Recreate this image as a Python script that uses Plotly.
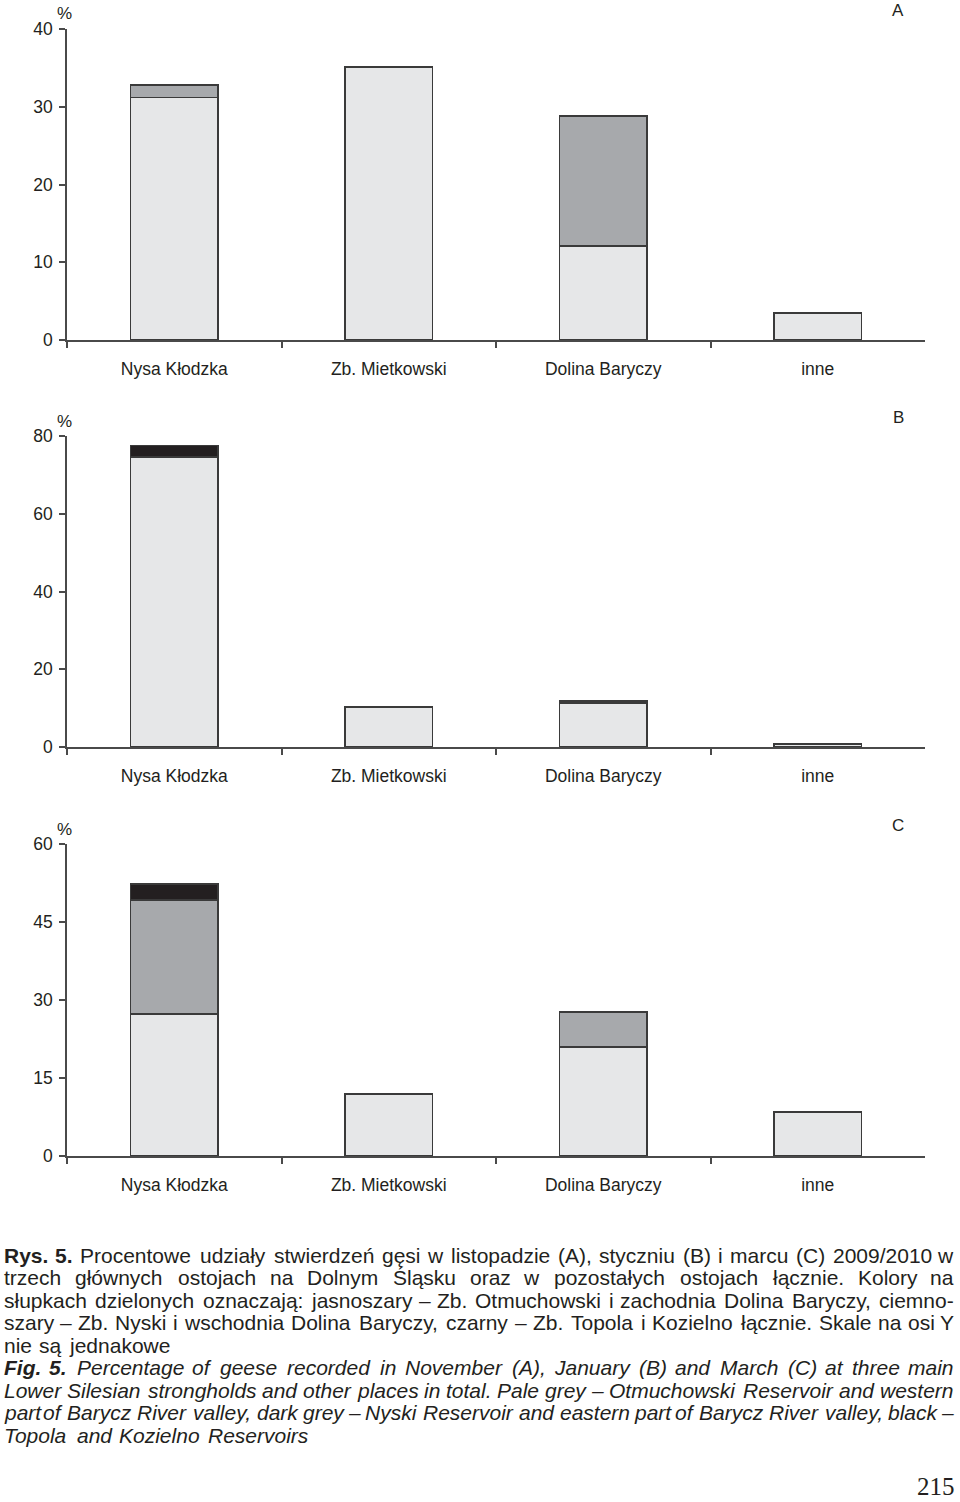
import plotly.graph_objects as go

# ---------------- data ----------------
categories = ["Nysa Kłodzka", "Zb. Mietkowski", "Dolina Baryczy", "inne"]

A_pale = [31.2, 35.1, 12.1, 3.5]
A_dark = [1.6, None, 16.7, None]
A_black = [None, None, None, None]

B_pale = [74.6, 10.3, 11.3, 0.8]
B_dark = [None, None, 0.5, None]
B_black = [2.9, None, None, None]

C_pale = [27.3, 11.9, 21.0, 8.5]
C_dark = [21.9, None, 6.7, None]
C_black = [3.1, None, None, None]

A_ticks = [0, 10, 20, 30, 40]
B_ticks = [0, 20, 40, 60, 80]
C_ticks = [0, 15, 30, 45, 60]

panel_letters = ["A", "B", "C"]

caption_lines = [
    ("Rys. 5.", "Procentowe udziały stwierdzeń gęsi w listopadzie (A), styczniu (B) i marcu (C) 2009/2010 w", True, False),
    ("", "trzech głównych ostojach na Dolnym Śląsku oraz w pozostałych ostojach łącznie. Kolory na", True, False),
    ("", "słupkach dzielonych oznaczają: jasnoszary – Zb. Otmuchowski i zachodnia Dolina Baryczy, ciemno-", True, False),
    ("", "szary – Zb. Nyski i wschodnia Dolina Baryczy, czarny – Zb. Topola i Kozielno łącznie. Skale na osi Y", True, False),
    ("", "nie są jednakowe", False, False),
    ("Fig. 5.", "Percentage of geese recorded in November (A), January (B) and March (C) at three main", True, True),
    ("", "Lower Silesian strongholds and other places in total. Pale grey – Otmuchowski Reservoir and western", True, True),
    ("", "part of Barycz River valley, dark grey – Nyski Reservoir and eastern part of Barycz River valley, black –", True, True),
    ("", "Topola and Kozielno Reservoirs", False, True),
]
page_number = "215"

# ---------------- styles ----------------
PALE = "#e6e7e8"
DARK = "#a7a9ac"
BLACK = "#231f20"
OUTLINE = "#3a3a3a"
FONT = "Liberation Sans, Arial, sans-serif"
TXT = "#231f20"

W, H = 960, 1502

def py(p):
    return 1 - p / H

def px(p):
    return p / W

x_dom = [px(67), px(925)]
panels = [
    dict(data=(A_pale, A_dark, A_black), ticks=A_ticks, rng=[0, 40], bot=340, top=29),
    dict(data=(B_pale, B_dark, B_black), ticks=B_ticks, rng=[0, 80], bot=747, top=436),
    dict(data=(C_pale, C_dark, C_black), ticks=C_ticks, rng=[0, 60], bot=1156, top=844),
]

fig = go.Figure()
layout_axes = {}
annotations = []

for i, p in enumerate(panels):
    sfx = "" if i == 0 else str(i + 1)
    xa, ya = "x" + sfx, "y" + sfx
    for vals, col in zip(p["data"], [PALE, DARK, BLACK]):
        fig.add_trace(go.Bar(
            x=categories, y=vals, xaxis=xa, yaxis=ya, width=0.41,
            marker=dict(color=col, line=dict(color=OUTLINE, width=1.5)),
            showlegend=False, hoverinfo="skip",
        ))
    layout_axes["xaxis" + sfx] = dict(
        domain=x_dom, anchor=ya, type="category", range=[-0.5, 3.5], automargin=False,
        showline=True, linecolor="#4a4a4a", linewidth=1.5,
        ticks="outside", tickson="boundaries", ticklen=6, tickwidth=1.5, tickcolor="#4a4a4a",
        tickfont=dict(family=FONT, size=17.5, color=TXT), ticklabelstandoff=12,
        showgrid=False, zeroline=False, fixedrange=True,
    )
    layout_axes["yaxis" + sfx] = dict(
        domain=[py(p["bot"]), py(p["top"])], anchor=xa, range=p["rng"], automargin=False,
        tickmode="array", tickvals=p["ticks"], ticktext=[str(t) for t in p["ticks"]],
        showline=True, linecolor="#4a4a4a", linewidth=1.5,
        ticks="outside", ticklen=6, tickwidth=1.5, tickcolor="#4a4a4a",
        tickfont=dict(family=FONT, size=17.5, color=TXT), ticklabelstandoff=3,
        showgrid=False, zeroline=False, fixedrange=True,
    )
    annotations.append(dict(text="%", x=px(64), y=py(p["top"] - 15), xref="paper", yref="paper",
                            xanchor="center", yanchor="middle", showarrow=False,
                            font=dict(family=FONT, size=17, color=TXT)))
    annotations.append(dict(text=panel_letters[i], x=px(898), y=py(p["top"] - 19), xref="paper", yref="paper",
                            xanchor="center", yanchor="middle", showarrow=False,
                            font=dict(family=FONT, size=17, color=TXT)))

# ---------------- caption (justified word placement) ----------------
W_REG = {' ': 278, '(': 333, ')': 333, ',': 278, '-': 333, '.': 278, '/': 278, ':': 278, '–': 556,
         'A': 667, 'B': 667, 'C': 722, 'D': 722, 'E': 667, 'F': 611, 'G': 778, 'H': 722, 'I': 278,
         'J': 500, 'K': 667, 'L': 556, 'M': 833, 'N': 722, 'O': 778, 'P': 667, 'Q': 778, 'R': 722,
         'S': 667, 'T': 611, 'U': 722, 'V': 667, 'W': 944, 'X': 667, 'Y': 667, 'Z': 611, 'Ś': 667,
         'a': 556, 'b': 556, 'c': 500, 'd': 556, 'e': 556, 'f': 278, 'g': 556, 'h': 556, 'i': 222,
         'j': 222, 'k': 500, 'l': 222, 'm': 833, 'n': 556, 'o': 556, 'p': 556, 'q': 556, 'r': 333,
         's': 500, 't': 278, 'u': 556, 'v': 500, 'w': 722, 'x': 500, 'y': 500, 'z': 500,
         'ą': 556, 'ę': 556, 'ł': 222, 'ń': 556, 'ó': 556, 'ś': 500, 'ż': 500, 'ź': 500, 'ć': 500}
for d in '0123456789':
    W_REG[d] = 556
W_BOLD = {'R': 722, 'y': 556, 's': 556, '.': 278, '5': 556, 'F': 611, 'i': 278, 'g': 611, ' ': 278}

CAP_SIZE = 21
WIDTH_FIX = 1.025

def tw(word, bold):
    tbl = W_BOLD if bold else W_REG
    return sum(tbl.get(ch, W_REG.get(ch, 556)) for ch in word) * CAP_SIZE / 1000.0 * WIDTH_FIX

left, right = 3, 955
line_y0, line_dy = 1255, 22.5
for li, (prefix, body, justify, italic) in enumerate(caption_lines):
    words = [(w, True) for w in prefix.split()] + [(w, False) for w in body.split()]
    widths = [tw(w, b) for w, b in words]
    if justify and len(words) > 1:
        gap = (right - left - sum(widths)) / (len(words) - 1)
    else:
        gap = 278 * CAP_SIZE / 1000.0 * 1.15
    xcur = left
    yc = line_y0 + li * line_dy
    n = len(words)
    for wi, ((w, b), wd) in enumerate(zip(words, widths)):
        t = w
        if italic:
            t = "<i>" + t + "</i>"
        if b:
            t = "<b>" + t + "</b>"
        if wi == 0:
            xa_, xpos = "left", left
        elif justify and wi == n - 1:
            xa_, xpos = "right", right
        elif justify:
            xa_, xpos = "center", xcur + wd / 2
        else:
            xa_, xpos = "left", xcur
        annotations.append(dict(
            text=t, x=px(xpos), y=py(yc), xref="paper", yref="paper",
            xanchor=xa_, yanchor="middle", showarrow=False, borderpad=0,
            font=dict(family=FONT, size=CAP_SIZE, color=TXT),
        ))
        xcur += wd + gap

annotations.append(dict(text=page_number, x=px(956), y=py(1486), xref="paper", yref="paper",
                        xanchor="right", yanchor="middle", showarrow=False, borderpad=0,
                        font=dict(family="Liberation Serif, Times New Roman, serif", size=25, color=TXT)))

fig.update_layout(
    width=W, height=H, margin=dict(l=0, r=0, t=0, b=0, autoexpand=False),
    paper_bgcolor="white", plot_bgcolor="white",
    barmode="stack", bargap=0.59, showlegend=False,
    annotations=annotations, **layout_axes,
)

fig.write_html("out.html", config={"displayModeBar": False},
               post_script="document.body.style.margin='0';document.body.style.overflow='hidden';")
